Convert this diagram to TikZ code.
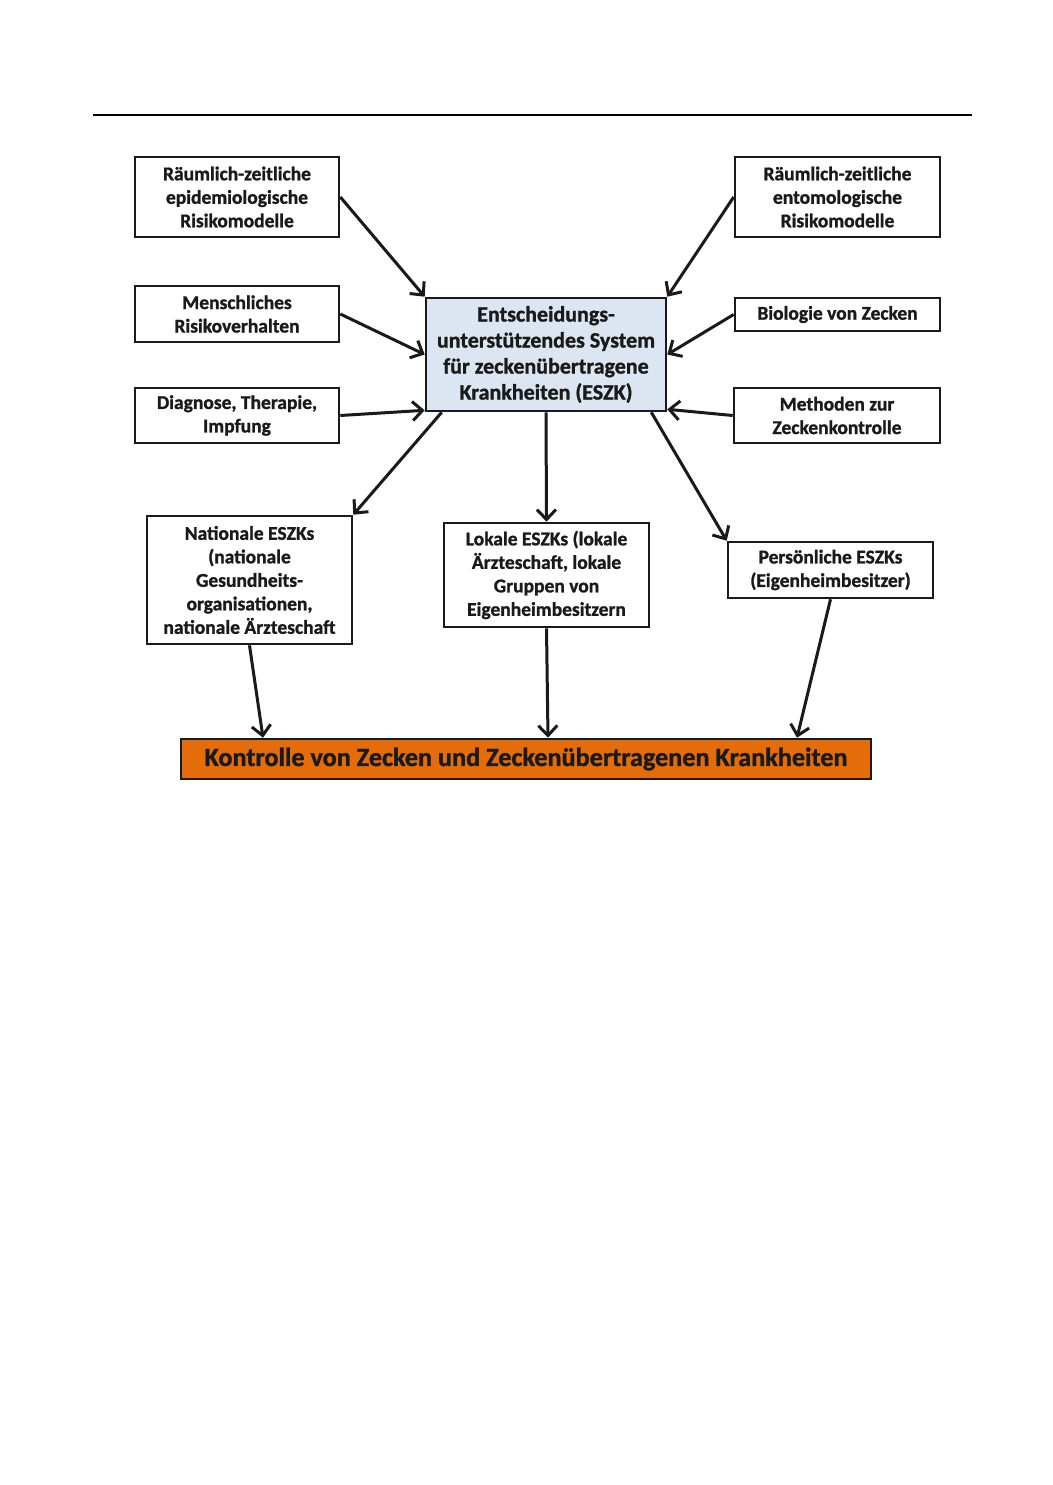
\documentclass[tikz,border=0pt]{standalone}
\usepackage{fontspec}
\setmainfont{Carlito}[BoldFeatures={FakeBold=1.2}]
\usetikzlibrary{arrows.meta}
\definecolor{txt}{HTML}{1A1A1A}
\definecolor{cblue}{HTML}{DCE6F2}
\definecolor{corange}{HTML}{E46C0A}
\tikzset{
  box/.style={draw=txt, line width=2.6pt, fill=white, align=center, inner sep=0pt,
    font=\fontsize{19.5}{23.5}\selectfont\bfseries, text=txt},
  arr/.style={draw=txt, line width=3pt, -{Straight Barb[length=10pt,width=19pt,line width=3pt]}},
}
\begin{document}
\begin{tikzpicture}[x=1pt,y=-1pt]
\useasboundingbox (0,0) rectangle (1052,1485);
\fill[white] (0,0) rectangle (1052,1485);
\draw[line width=1.4pt, black] (93,115) -- (972,115);

\node[box, minimum width=204pt, minimum height=80pt] (tl) at (237,197) {Räumlich-zeitliche\\epidemiologische\\Risikomodelle};
\node[box, minimum width=204pt, minimum height=56pt] (mr) at (237,314) {Menschliches\\Risikoverhalten};
\node[box, minimum width=204pt, minimum height=55pt] (dg) at (237,415.5) {Diagnose, Therapie,\\Impfung};
\node[box, fill=cblue, minimum width=240pt, minimum height=113pt, font=\fontsize{22}{26}\selectfont\bfseries] (c) at (546,354.5) {Entscheidungs-\\unterstützendes System\\für zeckenübertragene\\Krankheiten (ESZK)};
\node[box, minimum width=205pt, minimum height=80pt] (tr) at (837.5,197) {Räumlich-zeitliche\\entomologische\\Risikomodelle};
\node[box, minimum width=205pt, minimum height=33pt] (bio) at (837.5,314.5) {Biologie von Zecken};
\node[box, minimum width=206pt, minimum height=55pt] (met) at (837,415.5) {Methoden zur\\Zeckenkontrolle};
\node[box, minimum width=205pt, minimum height=128pt] (nat) at (249.5,580) {Nationale ESZKs\\(nationale\\Gesundheits-\\organisationen,\\nationale Ärzteschaft};
\node[box, minimum width=205pt, minimum height=104pt] (lok) at (546.5,575) {Lokale ESZKs (lokale\\Ärzteschaft, lokale\\Gruppen von\\Eigenheimbesitzern};
\node[box, minimum width=205pt, minimum height=56pt] (per) at (830.5,570) {Persönliche ESZKs\\(Eigenheimbesitzer)};
\node[box, fill=corange, minimum width=690pt, minimum height=40pt, font=\fontsize{26.2}{28}\selectfont\bfseries] (bot) at (526,759) {Kontrolle von Zecken und Zeckenübertragenen Krankheiten};

\draw[arr] (tl.east) -- (c.north west);
\draw[arr] (mr.east) -- (c.west);
\draw[arr] (dg.east) -- ([yshift=2pt]c.south west);
\draw[arr] (tr.west) -- (c.north east);
\draw[arr] (bio.west) -- (c.east);
\draw[arr] (met.west) -- ([yshift=3pt]c.south east);
\draw[arr] ([xshift=17pt]c.south west) -- (nat.north east);
\draw[arr] (c.south) -- (lok.north);
\draw[arr] ([xshift=-16pt]c.south east) -- (per.north west);
\draw[arr] (nat.south) -- ([xshift=-263pt]bot.north);
\draw[arr] (lok.south) -- ([xshift=22pt]bot.north);
\draw[arr] (per.south) -- ([xshift=271pt]bot.north);
\end{tikzpicture}
\end{document}
